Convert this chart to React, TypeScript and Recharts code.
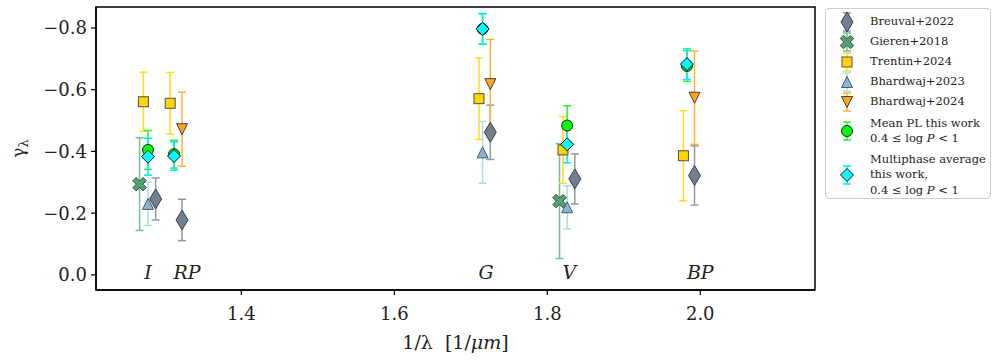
import React from 'react';
import { ScatterChart, Scatter, XAxis, YAxis, ErrorBar, ReferenceArea } from 'recharts';

const FONT = '"DejaVu Serif", "Liberation Serif", serif';

const bandNames = ['I', 'RP', 'G', 'V', 'BP'];
const bandLabelX = [1.278, 1.329, 1.72, 1.829, 2.0];
const bandLabelY = [-0.01, -0.01, -0.01, -0.01, -0.01];

const xTicks = [1.4, 1.6, 1.8, 2.0];
const yTicks = [-0.8, -0.6, -0.4, -0.2, 0.0];

// Breuval+2022 (I, RP, G, V, BP)
const breuvalX = [1.288, 1.3225, 1.7255, 1.836, 1.9925];
const breuvalY = [-0.246, -0.178, -0.462, -0.311, -0.322];
const breuvalErr = [0.068, 0.067, 0.088, 0.081, 0.096];

// Gieren+2018 (I, V)
const gierenX = [1.267, 1.816];
const gierenY = [-0.294, -0.239];
const gierenErr = [0.15, 0.186];

// Trentin+2024 (I, RP, G, V, BP)
const trentinX = [1.272, 1.307, 1.7107, 1.8205, 1.978];
const trentinY = [-0.561, -0.556, -0.571, -0.405, -0.386];
const trentinErr = [0.096, 0.1, 0.132, 0.108, 0.146];

// Bhardwaj+2023 (I, G, V)
const bh23X = [1.278, 1.7154, 1.826];
const bh23Y = [-0.23, -0.397, -0.219];
const bh23Err = [0.07, 0.1, 0.07];

// Bhardwaj+2024 (RP, G, BP)
const bh24X = [1.3225, 1.7255, 1.9925];
const bh24Y = [-0.472, -0.618, -0.574];
const bh24Err = [0.12, 0.145, 0.151];

// Mean PL this work
const meanX = [1.278, 1.312, 1.7154, 1.826, 1.9826];
const meanY = [-0.405, -0.391, -0.797, -0.484, -0.677];
const meanErr = [0.063, 0.045, 0.05, 0.064, 0.05];

// Multiphase average this work
const multiX = [1.278, 1.312, 1.7154, 1.826, 1.9826];
const multiY = [-0.383, -0.385, -0.797, -0.423, -0.683];
const multiErr = [0.06, 0.046, 0.049, 0.06, 0.05];

const toPoints = (xs: number[], ys: number[], errs: number[]) =>
  xs.map((x, i) => ({ x, y: ys[i], err: errs[i] }));

type Kind = 'thinDiamond' | 'xFilled' | 'square' | 'triUp' | 'triDown' | 'circle' | 'diamond';

function Marker({ kind, cx, cy, fill, stroke }: { kind: Kind; cx: number; cy: number; fill: string; stroke: string }) {
  const common = { fill, stroke, strokeWidth: 1 };
  switch (kind) {
    case 'thinDiamond':
      return <polygon {...common} points={`${cx},${cy - 10} ${cx + 6},${cy} ${cx},${cy + 10} ${cx - 6},${cy}`} />;
    case 'xFilled': {
      const a = 7.2;
      const t = 2.3;
      const base = [
        [t, a], [t, t], [a, t], [a, -t], [t, -t], [t, -a],
        [-t, -a], [-t, -t], [-a, -t], [-a, t], [-t, t], [-t, a],
      ];
      const c = Math.SQRT1_2;
      const pts = base
        .map(([px, py]) => `${cx + (px - py) * c},${cy + (px + py) * c}`)
        .join(' ');
      return <polygon {...common} points={pts} />;
    }
    case 'square':
      return <rect {...common} x={cx - 5} y={cy - 5} width={10} height={10} />;
    case 'triUp':
      return <polygon {...common} points={`${cx},${cy - 5.5} ${cx + 5.5},${cy + 5.5} ${cx - 5.5},${cy + 5.5}`} />;
    case 'triDown':
      return <polygon {...common} points={`${cx},${cy + 5.5} ${cx + 5.5},${cy - 5.5} ${cx - 5.5},${cy - 5.5}`} />;
    case 'circle':
      return <circle {...common} cx={cx} cy={cy} r={5.5} />;
    case 'diamond':
      return <polygon {...common} points={`${cx},${cy - 6.5} ${cx + 6.5},${cy} ${cx},${cy + 6.5} ${cx - 6.5},${cy}`} />;
  }
  return null;
}

const series = [
  { name: 'Breuval+2022', data: toPoints(breuvalX, breuvalY, breuvalErr), kind: 'thinDiamond' as Kind, fill: '#708090', stroke: '#3a3f45', bar: '#8e9aa6' },
  { name: 'Gieren+2018', data: toPoints(gierenX, gierenY, gierenErr), kind: 'xFilled' as Kind, fill: '#55a070', stroke: '#3d4a40', bar: '#72c18e' },
  { name: 'Trentin+2024', data: toPoints(trentinX, trentinY, trentinErr), kind: 'square' as Kind, fill: '#ffd400', stroke: '#505050', bar: '#ffdb1a' },
  { name: 'Bhardwaj+2023', data: toPoints(bh23X, bh23Y, bh23Err), kind: 'triUp' as Kind, fill: '#86b4d4', stroke: '#505a60', bar: '#a8dcf2' },
  { name: 'Bhardwaj+2024', data: toPoints(bh24X, bh24Y, bh24Err), kind: 'triDown' as Kind, fill: '#ffa51a', stroke: '#404040', bar: '#ffb23a' },
  { name: 'Mean PL', data: toPoints(meanX, meanY, meanErr), kind: 'circle' as Kind, fill: '#00ff00', stroke: '#1a1a1a', bar: '#2ef02e' },
  { name: 'Multiphase', data: toPoints(multiX, multiY, multiErr), kind: 'diamond' as Kind, fill: '#00ffff', stroke: '#111111', bar: '#00ecec' },
];

const bandData = bandNames.map((n, i) => ({ x: bandLabelX[i], y: bandLabelY[i], name: n }));

const logP = (
  <span>
    0.4 ≤ log <i>P</i> &lt; 1
  </span>
);

const legendRows = [
  { lines: [<span>Breuval+2022</span>], h: 20 },
  { lines: [<span>Gieren+2018</span>], h: 20 },
  { lines: [<span>Trentin+2024</span>], h: 20 },
  { lines: [<span>Bhardwaj+2023</span>], h: 20 },
  { lines: [<span>Bhardwaj+2024</span>], h: 20 },
  { lines: [<span>Mean PL this work</span>, logP], h: 38 },
  { lines: [<span>Multiphase average</span>, <span>this work,</span>, logP], h: 50 },
];

function LegendBox() {
  return (
    <div
      style={{
        position: 'absolute',
        left: 825,
        top: 8,
        width: 166,
        height: 191,
        border: '1px solid #cccccc',
        borderRadius: 4,
        background: '#fff',
        fontFamily: FONT,
        fontSize: 11.5,
        color: '#222',
        paddingTop: 3,
        boxSizing: 'border-box',
      }}
    >
      {legendRows.map((row, i) => {
        const s = series[i];
        const mid = row.h / 2;
        return (
          <div key={i} style={{ display: 'flex', alignItems: 'center', height: row.h }}>
            <svg width={44} height={row.h} style={{ flex: 'none' }}>
              <g stroke={s.bar} strokeWidth={1.5}>
                <line x1={21} x2={21} y1={mid - 9} y2={mid + 9} />
                <line x1={17} x2={25} y1={mid - 9} y2={mid - 9} />
                <line x1={17} x2={25} y1={mid + 9} y2={mid + 9} />
              </g>
              <Marker kind={s.kind} cx={21} cy={mid} fill={s.fill} stroke={s.stroke} />
            </svg>
            <div style={{ lineHeight: '15.5px', whiteSpace: 'nowrap' }}>
              {row.lines.map((l, j) => (
                <div key={j}>{l}</div>
              ))}
            </div>
          </div>
        );
      })}
    </div>
  );
}

const fmtY = (v: number) => v.toFixed(1).replace('-', '\u2212');

export default function App() {
  return (
    <div style={{ position: 'absolute', left: 0, top: 0, width: 997, height: 362, background: '#fff' }}>
      <ScatterChart width={997} height={362} margin={{ top: 7, right: 182, bottom: 0, left: 0 }}>
        <XAxis
          type="number"
          dataKey="x"
          domain={[1.21, 2.15]}
          ticks={xTicks}
          tickFormatter={(v: number) => v.toFixed(1)}
          allowDataOverflow
          height={72}
          tickSize={5}
          tickMargin={12}
          axisLine={{ stroke: '#000', strokeWidth: 1.5 }}
          tickLine={{ stroke: '#000', strokeWidth: 1.2 }}
          tick={{ fill: '#222', fontSize: 18, fontFamily: FONT }}
          label={(p: any) => {
            const vb = p.viewBox || {};
            return (
              <text
                x={vb.x + vb.width / 2}
                y={vb.y + 59}
                textAnchor="middle"
                fontSize={19}
                fontFamily={FONT}
                fill="#222"
              >
                {'1/λ\u00a0\u00a0[1/'}<tspan fontStyle="italic">μm</tspan>]
              </text>
            );
          }}
        />
        <YAxis
          type="number"
          dataKey="y"
          domain={[-0.868, 0.049]}
          reversed
          ticks={yTicks}
          tickFormatter={fmtY}
          allowDataOverflow
          width={96}
          tickSize={5}
          tickMargin={4}
          axisLine={{ stroke: '#000', strokeWidth: 1.5 }}
          tickLine={{ stroke: '#000', strokeWidth: 1.2 }}
          tick={{ fill: '#222', fontSize: 18, fontFamily: FONT }}
          label={(p: any) => {
            const vb = p.viewBox || {};
            const cy = vb.y + vb.height / 2;
            return (
              <text
                x={24}
                y={cy}
                transform={`rotate(-90 24 ${cy})`}
                textAnchor="middle"
                fontSize={17}
                fontFamily={FONT}
                fill="#222"
              >
                γ<tspan fontSize={13} dy={4}>λ</tspan>
              </text>
            );
          }}
        />
        <ReferenceArea
          x1={1.21}
          x2={2.15}
          y1={-0.868}
          y2={0.049}
          fill="none"
          stroke="#000"
          strokeWidth={1.5}
          strokeOpacity={1}
          fillOpacity={0}
        />
        {series.map((s) => (
          <Scatter
            key={s.name}
            name={s.name}
            data={s.data}
            isAnimationActive={false}
            shape={(p: any) => <Marker kind={s.kind} cx={p.cx} cy={p.cy} fill={s.fill} stroke={s.stroke} />}
          >
            <ErrorBar dataKey="err" direction="y" width={4} stroke={s.bar} strokeWidth={1.5} />
          </Scatter>
        ))}
        <Scatter
          name="bands"
          data={bandData}
          isAnimationActive={false}
          shape={(p: any) => (
            <text
              x={p.cx}
              y={p.cy + 7}
              textAnchor="middle"
              fontSize={19}
              fontStyle="italic"
              fontFamily={FONT}
              fill="#222"
            >
              {p.payload.name}
            </text>
          )}
        />
      </ScatterChart>
      <LegendBox />
    </div>
  );
}
